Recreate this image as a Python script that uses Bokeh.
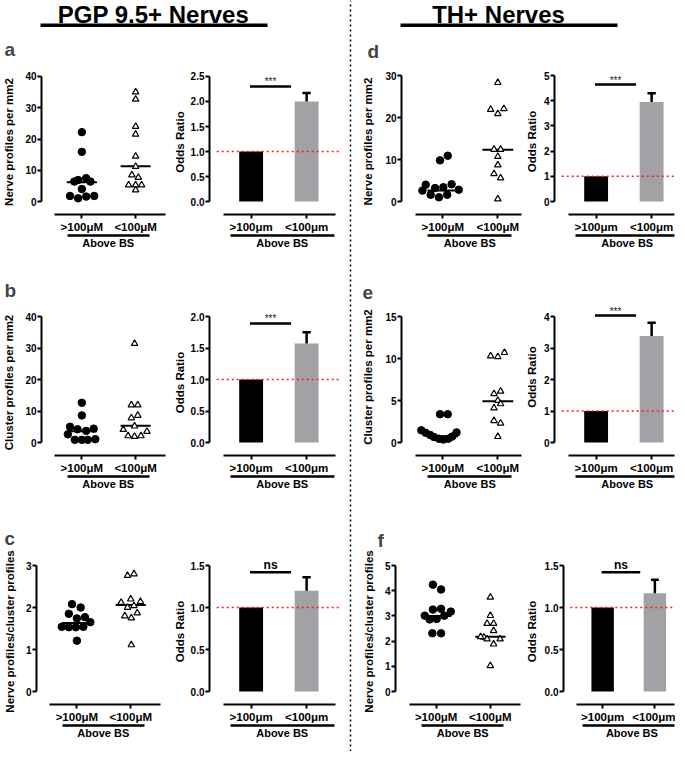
from bokeh.plotting import figure
from bokeh.layouts import row, column
from bokeh.models import Range1d, LinearAxis, FixedTicker, NumeralTickFormatter
from bokeh.embed import file_html
from bokeh.resources import INLINE
from bokeh.core.properties import value

FONT = "Liberation Sans"

# ---------------- data ----------------
scatter_cats = [">100\u03bcM", "<100\u03bcM"]
bar_cats = [">100\u03bcm", "<100\u03bcm"]
group_label = "Above BS"
cat_pos = [1, 2]

# panel a : PGP 9.5+ nerve profiles per mm2
a_above = [22.2, 15.9, 6.4, 6.9, 7.5, 6.4, 4.0, 1.8, 1.05, 1.6, 1.8]
a_above_jit = [0, 0, -0.14, -0.07, 0.08, 0.16, 0, -0.22, -0.07, 0.08, 0.23]
a_below = [35.0, 32.7, 24.0, 21.5, 14.5, 11.2, 8.5, 7.7, 5.3, 5.3, 5.3, 3.7]
a_below_jit = [0, 0, 0, 0, 0, 0, -0.07, 0.05, -0.13, 0, 0.11, 0]
a_medians = [6.2, 11.3]
a_yticks = [0, 10, 20, 30, 40]

# panel b : PGP 9.5+ cluster profiles per mm2
b_above = [12.6, 8.6, 5.0, 4.2, 3.7, 4.4, 2.6, 0.85, 0.85, 0.85, 1.06]
b_above_jit = [0, 0, -0.22, -0.08, 0.08, 0.22, -0.26, -0.13, 0, 0.11, 0.25]
b_below = [31.4, 11.9, 11.9, 7.8, 8.6, 4.1, 5.2, 3.5, 2.1, 1.9, 2.1]
b_below_jit = [-0.02, -0.08, 0.04, -0.08, 0.04, -0.23, -0.02, 0.21, -0.14, -0.02, 0.10]
b_medians = [3.6, 5.3]
b_yticks = [0, 10, 20, 30, 40]

# panel c : PGP 9.5+ nerve / cluster profiles
c_above = [2.08, 2.0, 1.85, 1.74, 1.77, 1.54, 1.53, 1.53, 1.54, 1.65, 1.21]
c_above_jit = [-0.09, 0.07, -0.15, 0, 0.15, -0.28, -0.15, -0.02, 0.12, 0.25, 0]
c_below = [2.76, 2.8, 2.2, 2.12, 2.0, 2.04, 2.14, 1.8, 1.75, 1.87, 1.11]
c_below_jit = [-0.06, 0.06, 0, -0.18, -0.06, 0.06, 0.18, -0.11, 0.01, 0.12, 0.01]
c_medians = [1.63, 2.06]
c_yticks = [0, 1, 2, 3]

# panel d : TH+ nerve profiles per mm2
d_above = [9.8, 10.9, 4.0, 3.2, 3.4, 4.1, 2.6, 1.6, 1.0, 1.6, 2.8]
d_above_jit = [-0.05, 0.09, -0.31, -0.14, 0.01, 0.16, -0.37, -0.22, -0.07, 0.08, 0.29]
d_below = [28.3, 21.9, 20.9, 22.1, 12.4, 12.4, 10.7, 8.7, 6.6, 5.6, 0.6]
d_below_jit = [0, -0.13, 0, 0.11, -0.07, 0.05, 0, 0, -0.07, 0.05, 0]
d_medians = [2.6, 12.3]
d_yticks = [0, 10, 20, 30]

# panel e : TH+ cluster profiles per mm2
e_above = [3.37, 3.37, 1.45, 1.15, 0.9, 0.65, 0.45, 0.35, 0.45, 0.7, 1.2]
e_above_jit = [-0.05, 0.09, -0.39, -0.31, -0.23, -0.16, -0.07, 0.01, 0.10, 0.17, 0.25]
e_below = [10.3, 10.2, 10.7, 5.8, 6.1, 5.0, 4.6, 4.1, 2.6, 2.3, 0.7]
e_below_jit = [-0.13, 0, 0.12, -0.07, 0.05, 0, 0.05, -0.07, -0.07, 0.05, 0]
e_medians = [0.75, 4.9]
e_yticks = [0, 5, 10, 15]

# panel f : TH+ nerve / cluster profiles
f_above = [4.24, 4.05, 3.01, 3.25, 3.28, 2.86, 2.88, 3.01, 3.17, 2.31, 2.31]
f_above_jit = [-0.06, 0.09, -0.21, -0.06, 0.09, -0.12, 0.01, 0.15, 0.27, -0.07, 0.09]
f_below = [3.74, 3.01, 2.7, 2.7, 2.41, 2.15, 2.17, 2.08, 1.88, 2.08, 1.02]
f_below_jit = [0, 0, -0.06, 0.06, 0.06, -0.12, -0.18, -0.06, 0.06, 0.18, 0]
f_medians = [3.0, 2.17]
f_yticks = [0, 1, 2, 3, 4, 5]

# odds ratio bars (>100um, <100um), upper error of <100um, significance
null_or = 1.0
a_or = [1.0, 2.0]; a_err = 2.17; a_sig = 2.3; a_sig_text = "***"
b_or = [1.0, 1.57]; b_err = 1.75; b_sig = 1.89; b_sig_text = "***"
c_or = [1.0, 1.2]; c_err = 1.36; c_sig = 1.42; c_sig_text = "ns"
d_or = [1.0, 3.95]; d_err = 4.3; d_sig = 4.64; d_sig_text = "***"
e_or = [1.0, 3.38]; e_err = 3.8; e_sig = 4.03; e_sig_text = "***"
f_or = [1.0, 1.17]; f_err = 1.33; f_sig = 1.42; f_sig_text = "ns"
or_yticks_a = [0, 0.5, 1.0, 1.5, 2.0, 2.5]
or_yticks_b = [0, 0.5, 1.0, 1.5, 2.0]
or_yticks_c = [0, 0.5, 1.0, 1.5]
or_yticks_d = [0, 1, 2, 3, 4, 5]
or_yticks_e = [0, 1, 2, 3, 4]
or_yticks_f = [0, 0.5, 1.0, 1.5]

titles = ["PGP 9.5+ Nerves", "TH+ Nerves"]

# ---------------- styling helpers ----------------
PPU = 55.5
X0 = 0.25
BAR_BLACK = "#000000"
BAR_GRAY = "#A2A2A6"


def style_axis(ax, label_size):
    ax.axis_line_width = 2
    ax.axis_line_color = "black"
    ax.major_tick_line_width = 2
    ax.major_tick_line_color = "black"
    ax.major_tick_out = 4
    ax.major_tick_in = 0
    ax.minor_tick_line_color = None
    ax.major_label_text_font = FONT
    ax.major_label_text_font_style = "bold"
    ax.major_label_text_font_size = label_size
    ax.major_label_text_color = "black"
    ax.axis_label_text_font = FONT
    ax.axis_label_text_font_style = "bold"
    ax.axis_label_text_font_size = "11.5px"
    ax.axis_label_text_color = "black"


def base_panel(W, H, L, R, T, B, yticks, fmt, ylabel, yl_standoff, xlabels,
               x_bounds, g_bounds, letter="", letter_off=0, letter_standoff=10, top_pad=7):
    ymax = yticks[-1]
    fw = W - L - R
    # frame: 13 px below zero, 126 px for the tick span, top_pad px above the top tick
    p = figure(width=W, height=H, min_border_left=L, min_border_right=R,
               min_border_top=T - (top_pad - 7), min_border_bottom=B,
               x_range=Range1d(X0, X0 + fw / PPU),
               y_range=Range1d(-13.0 / 126 * ymax, ymax * (126.0 + top_pad) / 126),
               output_backend="svg", toolbar_location=None, tools="",
               x_axis_location=None, y_axis_location=None)
    p.outline_line_color = None
    p.grid.visible = False
    p.background_fill_color = "white"
    p.border_fill_color = "white"

    yax = LinearAxis(bounds=(0, ymax), ticker=FixedTicker(ticks=yticks),
                     formatter=NumeralTickFormatter(format=fmt), axis_label=ylabel)
    style_axis(yax, "10px")
    yax.major_label_standoff = 1
    yax.axis_label_standoff = yl_standoff
    p.add_layout(yax, "left")

    xax = LinearAxis(bounds=x_bounds, ticker=FixedTicker(ticks=cat_pos),
                     major_label_overrides={cat_pos[0]: xlabels[0], cat_pos[1]: xlabels[1]})
    style_axis(xax, "11.5px")
    xax.major_label_standoff = 2
    p.add_layout(xax, "below")

    gmid = (g_bounds[0] + g_bounds[1]) / 2.0
    gax = LinearAxis(bounds=g_bounds, ticker=FixedTicker(ticks=[gmid]),
                     major_label_overrides={gmid: group_label})
    style_axis(gax, "11px")
    gax.axis_line_width = 2.5
    gax.major_tick_out = 0
    gax.major_tick_line_color = None
    gax.major_label_standoff = 1
    p.add_layout(gax, "below")

    p.title.text = letter
    p.title.text_font = FONT
    p.title.text_font_size = "19px"
    p.title.text_font_style = "bold"
    p.title.align = "left"
    p.title.offset = letter_off
    p.title.standoff = letter_standoff
    return p


def scatter_panel(vals1, jit1, vals2, jit2, medians, **kw):
    p = base_panel(fmt="0", xlabels=scatter_cats, **kw)
    x1 = [cat_pos[0] + j for j in jit1]
    x2 = [cat_pos[1] + j for j in jit2]
    half = 0.28
    p.segment(x0=[c - half for c in cat_pos], x1=[c + half for c in cat_pos],
              y0=medians, y1=medians, line_color="black", line_width=2)
    p.scatter(x1, vals1, marker="circle", size=7.5, fill_color="black", line_color="black")
    p.scatter(x2, vals2, marker="triangle", size=6.5, fill_color="white",
              line_color="black", line_width=1.2)
    return p


def bar_panel(vals, err, sig, sig_text, fmt, **kw):
    p = base_panel(fmt=fmt, xlabels=bar_cats, ylabel="Odds Ratio", **kw)
    xend = p.x_range.end
    p.vbar(x=cat_pos, top=vals, width=0.43, fill_color=[BAR_BLACK, BAR_GRAY], line_color=None)
    cap = 0.075
    p.segment(x0=[cat_pos[1], cat_pos[1] - cap], x1=[cat_pos[1], cat_pos[1] + cap],
              y0=[vals[1], err], y1=[err, err], line_color="black", line_width=2.5)
    p.segment(x0=[0.38], x1=[xend], y0=[null_or], y1=[null_or], line_color="#FF1A1A",
              line_width=1.6, line_dash="2 3")
    p.segment(x0=[cat_pos[0] - 0.02], x1=[cat_pos[0] + 0.72], y0=[sig], y1=[sig],
              line_color="black", line_width=2.5)
    if sig_text == "ns":
        p.text(x=[cat_pos[0] + 0.35], y=[sig], text=[sig_text], text_align="center",
               text_baseline="bottom", y_offset=0, text_font=value(FONT),
               text_font_style="bold", text_font_size="12px", text_color="black")
    else:
        p.text(x=[cat_pos[0] + 0.35], y=[sig], text=[sig_text], text_align="center",
               text_baseline="bottom", y_offset=1, text_font=value(FONT),
               text_font_size="10px", text_color="#222222")
    return p


# ---------------- header & divider ----------------
HEADER_H = 27


def header(W, title, cx, ux0, ux1):
    h = figure(width=W, height=HEADER_H, x_range=Range1d(0, W), y_range=Range1d(HEADER_H, 0),
               min_border=0, output_backend="svg", toolbar_location=None, tools="",
               x_axis_location=None, y_axis_location=None, title=None)
    h.outline_line_color = None
    h.grid.visible = False
    h.text(x=[cx], y=[13.5], text=[title], text_align="center", text_baseline="middle",
           text_font=value(FONT), text_font_style="bold", text_font_size="24px", text_color="black")
    h.segment(x0=[ux0], x1=[ux1], y0=[25], y1=[25], line_color="black", line_width=4)
    return h


hl = header(341, titles[0], 153, 40, 267)
hr = header(316, titles[1], 139, 41, 258)

div = figure(width=18, height=751, x_range=Range1d(0, 1), y_range=Range1d(0, 1), min_border=0,
             output_backend="svg", toolbar_location=None, tools="",
             x_axis_location=None, y_axis_location=None, title=None)
div.outline_line_color = None
div.grid.visible = False
div.segment(x0=[0.5], x1=[0.5], y0=[0], y1=[1], line_color="black", line_width=1.5, line_dash="2 3")

# ---------------- panels ----------------
S_XB = (0.5, 2.55); S_GB = (0.73, 2.25)
B_XB = (0.5, 2.52); B_GB = (0.62, 2.5)
ROW1 = dict(H=233, T=41, B=46)
ROW2 = dict(H=240, T=49, B=45)
ROW3 = dict(H=251, T=58, B=47)

sa = scatter_panel(a_above, a_above_jit, a_below, a_below_jit, a_medians, W=168, L=37, R=1,
                   yticks=a_yticks, ylabel="Nerve profiles per mm2", yl_standoff=7,
                   x_bounds=S_XB, g_bounds=S_GB, letter="a", letter_off=-37, letter_standoff=19, **ROW1)
ba = bar_panel(a_or, a_err, a_sig, a_sig_text, "0.0", W=173, L=41, R=2, yticks=or_yticks_a,
               yl_standoff=2, x_bounds=B_XB, g_bounds=B_GB, **ROW1)
sb = scatter_panel(b_above, b_above_jit, b_below, b_below_jit, b_medians, W=168, L=37, R=1,
                   yticks=b_yticks, ylabel="Cluster profiles per mm2", yl_standoff=7,
                   x_bounds=S_XB, g_bounds=S_GB, letter="b", letter_off=-37, letter_standoff=18, **ROW2)
bb = bar_panel(b_or, b_err, b_sig, b_sig_text, "0.0", W=173, L=41, R=2, yticks=or_yticks_b,
               yl_standoff=2, x_bounds=B_XB, g_bounds=B_GB, **ROW2)
sc = scatter_panel(c_above, c_above_jit, c_below, c_below_jit, c_medians, W=168, L=32, R=1,
                   yticks=c_yticks, ylabel="Nerve profiles/cluster profiles", yl_standoff=7,
                   x_bounds=S_XB, g_bounds=S_GB, letter="c", letter_off=-32, letter_standoff=20, **ROW3)
bc = bar_panel(c_or, c_err, c_sig, c_sig_text, "0.0", W=173, L=41, R=2, yticks=or_yticks_c,
               yl_standoff=2, x_bounds=B_XB, g_bounds=B_GB, **ROW3)

sd = scatter_panel(d_above, d_above_jit, d_below, d_below_jit, d_medians, W=163, L=41, R=1,
                   yticks=d_yticks, ylabel="Nerve profiles per mm2", yl_standoff=8,
                   x_bounds=S_XB, g_bounds=S_GB, letter="d", letter_off=-34, letter_standoff=14, **ROW1)
bd = bar_panel(d_or, d_err, d_sig, d_sig_text, "0", W=153, L=32, R=1, yticks=or_yticks_d,
               yl_standoff=3, x_bounds=B_XB, g_bounds=B_GB, **ROW1)
se = scatter_panel(e_above, e_above_jit, e_below, e_below_jit, e_medians, W=163, L=41, R=1,
                   yticks=e_yticks, ylabel="Cluster profiles per mm2", yl_standoff=8,
                   x_bounds=S_XB, g_bounds=S_GB, letter="e", letter_off=-39, letter_standoff=0,
                   top_pad=18, **ROW2)
be = bar_panel(e_or, e_err, e_sig, e_sig_text, "0", W=153, L=32, R=1, yticks=or_yticks_e,
               yl_standoff=3, x_bounds=B_XB, g_bounds=B_GB, top_pad=18, **ROW2)
sf = scatter_panel(f_above, f_above_jit, f_below, f_below_jit, f_medians, W=163, L=33, R=1,
                   yticks=f_yticks, ylabel="Nerve profiles/cluster profiles", yl_standoff=7,
                   x_bounds=S_XB, g_bounds=S_GB, letter="f", letter_off=-18, letter_standoff=15, **ROW3)
bf = bar_panel(f_or, f_err, f_sig, f_sig_text, "0.0", W=153, L=34, R=1, yticks=or_yticks_f,
               yl_standoff=4, x_bounds=B_XB, g_bounds=B_GB, **ROW3)

left = column(hl, row(sa, ba), row(sb, bb), row(sc, bc))
right = column(hr, row(sd, bd), row(se, be), row(sf, bf))
layout = row(left, div, right)

open("out.html", "w").write(file_html(layout, INLINE))
